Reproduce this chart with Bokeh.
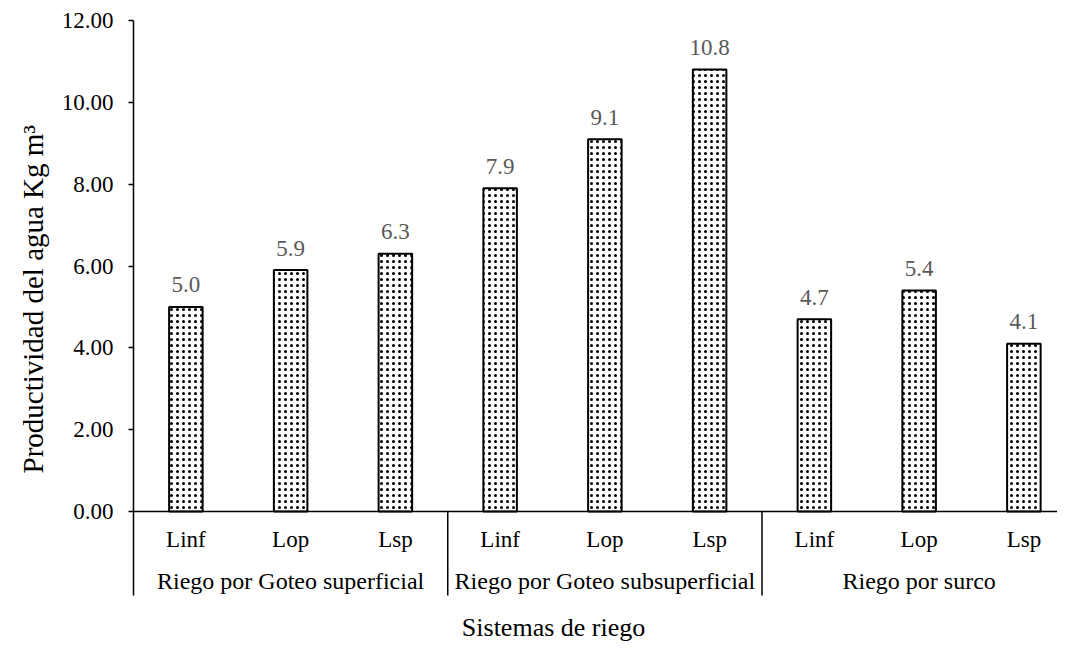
import math
from bokeh.plotting import figure
from bokeh.models import Range1d, ColumnDataSource, FixedTicker, NumeralTickFormatter, Title
from bokeh.core.properties import value
from bokeh.embed import file_html
from bokeh.resources import INLINE

groups = ["Riego por Goteo superficial", "Riego por Goteo subsuperficial", "Riego por surco"]
levels = ["Linf", "Lop", "Lsp"]
values = [5.0, 5.9, 6.3, 7.9, 9.1, 10.8, 4.7, 5.4, 4.1]
value_labels = ["5.0", "5.9", "6.3", "7.9", "9.1", "10.8", "4.7", "5.4", "4.1"]
y_ticks = [0, 2, 4, 6, 8, 10, 12]

FONT = "Liberation Serif"

W, H = 1057, 646
p = figure(width=W, height=H, output_backend="svg", toolbar_location=None,
           x_range=Range1d(0, 8.821), y_range=Range1d(-3.298, 12.0),
           min_border_left=133, min_border_right=0, min_border_top=20, min_border_bottom=0)
p.xaxis.visible = False
p.grid.visible = False
p.outline_line_color = None
p.background_fill_color = "white"

yax = p.yaxis[0]
yax.bounds = (-2.05, 12)
yax.ticker = FixedTicker(ticks=y_ticks)
yax.formatter = NumeralTickFormatter(format="0.00")
yax.major_tick_in = 0
yax.major_tick_out = 5
yax.minor_tick_line_color = None
yax.axis_line_color = "black"
yax.axis_line_width = 1.5
yax.major_tick_line_width = 1.5
yax.major_label_text_font = FONT
yax.major_label_text_font_size = "23px"
yax.major_label_text_color = "black"
yax.major_label_standoff = 15

ytitle = Title(text="Productividad del agua Kg m³", align="left", offset=173,
               text_font=FONT, text_font_size="29px", text_font_style="normal",
               text_color="black", standoff=20)
p.add_layout(ytitle, "left")

n = len(values)
xs = [i + 0.5 for i in range(n)]
cats = [levels[i % 3] for i in range(n)]
src = ColumnDataSource(dict(x=xs, top=values, lab=value_labels, cat=cats))

p.vbar(x="x", top="top", bottom=0, width=0.32, source=src,
       fill_color="white", line_color="black", line_width=2,
       hatch_pattern="dot", hatch_color="black", hatch_scale=6, hatch_weight=3)

p.text(x="x", y="top", text="lab", source=src, text_align="center", text_baseline="middle",
       y_offset=-22, text_font=value(FONT), text_font_size="23px", text_color="#595959")

# x axis line and group separators
p.segment(x0=[0], y0=[0], x1=[9], y1=[0], line_color="black", line_width=1.5)
p.segment(x0=[3, 6, 9], y0=[0, 0, 0], x1=[3, 6, 9], y1=[-2.05, -2.05, -2.05],
          line_color="black", line_width=1.5)

p.text(x="x", y=-0.684, text="cat", source=src, text_align="center", text_baseline="middle",
       text_font=value(FONT), text_font_size="23px", text_color="black")

gsrc = ColumnDataSource(dict(x=[1.5, 4.5, 7.5], g=groups))
p.text(x="x", y=-1.686, text="g", source=gsrc, text_align="center", text_baseline="middle",
       text_font=value(FONT), text_font_size="24px", text_color="black")

p.text(x=[4.01], y=[-2.83], text=["Sistemas de riego"], text_align="center",
       text_baseline="middle", text_font=value(FONT), text_font_size="26px", text_color="black")

open("out.html", "w").write(file_html(p, INLINE))
